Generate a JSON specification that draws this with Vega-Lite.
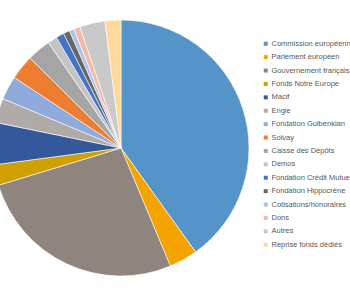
{
  "$schema": "https://vega.github.io/schema/vega-lite/v6.json",
  "autosize": {"type": "none"},
  "width": 242,
  "height": 296,
  "padding": {"left": 0, "top": 0, "right": 108, "bottom": 4},
  "background": "white",
  "view": {"stroke": null},
  "data": {
    "values": [
      {"i": 1, "source": "Commission européenne", "value": 40.1},
      {"i": 2, "source": "Parlement européen", "value": 3.6},
      {"i": 3, "source": "Gouvernement français", "value": 26.6},
      {"i": 4, "source": "Fonds Notre Europe", "value": 2.6},
      {"i": 5, "source": "Macif", "value": 5.3},
      {"i": 6, "source": "Engie", "value": 3.1},
      {"i": 7, "source": "Fondation Gulbenkian", "value": 3.0},
      {"i": 8, "source": "Solvay", "value": 3.1},
      {"i": 9, "source": "Caisse des Dépôts", "value": 3.0},
      {"i": 10, "source": "Demos", "value": 1.2},
      {"i": 11, "source": "Fondation Crédit Mutuel", "value": 1.0},
      {"i": 12, "source": "Fondation Hippocrène", "value": 0.8},
      {"i": 13, "source": "Cotisations/honoraires", "value": 0.6},
      {"i": 14, "source": "Dons", "value": 0.8},
      {"i": 15, "source": "Autres", "value": 3.2},
      {"i": 16, "source": "Reprise fonds dédiés", "value": 2.0}
    ]
  },
  "mark": {"type": "arc", "outerRadius": 128, "stroke": "white", "strokeWidth": 0.6},
  "encoding": {
    "theta": {"field": "value", "type": "quantitative", "stack": true},
    "order": {"field": "i", "type": "quantitative"},
    "color": {
      "field": "source",
      "type": "nominal",
      "sort": null,
      "scale": {
        "domain": ["Commission européenne", "Parlement européen", "Gouvernement français", "Fonds Notre Europe", "Macif", "Engie", "Fondation Gulbenkian", "Solvay", "Caisse des Dépôts", "Demos", "Fondation Crédit Mutuel", "Fondation Hippocrène", "Cotisations/honoraires", "Dons", "Autres", "Reprise fonds dédiés"],
        "range": ["#5594C9", "#F3A400", "#90847F", "#D09F00", "#34589C", "#B0ABA8", "#8FAADC", "#ED7D31", "#A5A5A5", "#C4C4C4", "#4472C4", "#676767", "#A9C4EB", "#F4B9A6", "#C9C9C9", "#FFD89B"]
      },
      "legend": {
        "title": null,
        "orient": "none",
        "legendX": 262,
        "legendY": 40,
        "symbolType": "square",
        "symbolSize": 16,
        "symbolStrokeWidth": 0,
        "labelFont": "Liberation Sans",
        "labelFontSize": 7.5,
        "labelColor": "#595959",
        "labelLimit": 0,
        "rowPadding": 4.4,
        "symbolOffset": 0,
        "labelOffset": 2,
        "padding": 0
      }
    }
  }
}
